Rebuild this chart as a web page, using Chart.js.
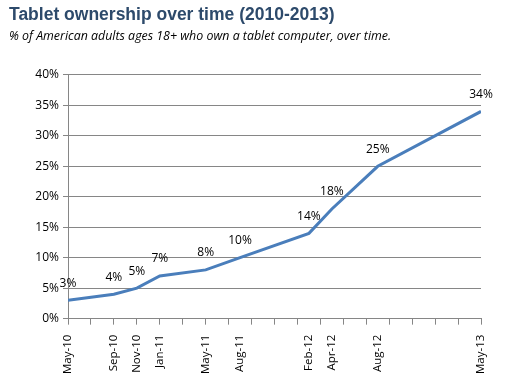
<!DOCTYPE html>
<html>
<head>
<meta charset="utf-8">
<script src="https://cdn.jsdelivr.net/npm/chart.js@4"></script>
<style>
  html, body { margin: 0; padding: 0; background: #fff; }
  #wrap { width: 528px; height: 385px; }
</style>
</head>
<body>
<div id="wrap"><canvas id="tabletChart"></canvas></div>
<script>
// months counted from May 2010
const months = [0, 4, 6, 8, 12, 15, 21, 23, 27, 36];
const monthLabels = ["May-10", "Sep-10", "Nov-10", "Jan-11", "May-11", "Aug-11", "Feb-12", "Apr-12", "Aug-12", "May-13"];
const ownership = [3, 4, 5, 7, 8, 10, 14, 18, 25, 34];
const yTicks = [0, 5, 10, 15, 20, 25, 30, 35, 40];

const points = months.map((m, i) => ({ x: m, y: ownership[i] }));
const labelFor = {};
months.forEach((m, i) => { labelFor[m] = monthLabels[i]; });

const FONT = "'Open Sans', 'Noto Sans', sans-serif";

// value labels above each point
const valueLabels = {
  id: 'valueLabels',
  afterDatasetsDraw(chart) {
    const ctx = chart.ctx;
    const meta = chart.getDatasetMeta(0);
    ctx.save();
    ctx.font = "12px " + FONT;
    ctx.fillStyle = "#000";
    ctx.textAlign = "center";
    ctx.textBaseline = "middle";
    meta.data.forEach((pt, i) => {
      ctx.fillText(ownership[i] + "%", pt.x, pt.y - 17);
    });
    ctx.restore();
  }
};

const TABLET = document.getElementById("tabletChart");
let tabletChart = new Chart(TABLET, {
  type: 'line',
  data: {
    datasets: [{
      label: "Tablet ownership",
      data: points,
      borderColor: "#4a7ebb",
      borderWidth: 3,
      pointRadius: 0,
      tension: 0,
      fill: false
    }]
  },
  options: {
    responsive: true,
    maintainAspectRatio: false,
    animation: false,
    layout: { padding: { left: 9, right: 47, top: 3, bottom: 9 } },
    plugins: {
      legend: { display: false },
      tooltip: { enabled: false },
      title: {
        display: true,
        text: "Tablet ownership over time (2010-2013)",
        align: 'start',
        color: "#2d4a6b",
        font: { family: "'Liberation Sans', Arial, sans-serif", size: 17.5, weight: 'bold' },
        padding: { top: 2, bottom: 3 }
      },
      subtitle: {
        display: true,
        text: "% of American adults ages 18+ who own a tablet computer, over time.",
        align: 'start',
        color: "#000",
        font: { family: FONT, size: 12.4, style: 'italic' },
        padding: { top: 0, bottom: 31 }
      }
    },
    scales: {
      x: {
        type: 'linear',
        position: 'bottom',
        min: 0,
        max: 36,
        ticks: { stepSize: 2, display: false },
        grid: { drawOnChartArea: false, drawTicks: true, tickLength: 6, color: "#868686" },
        border: { color: "#868686" },
        afterFit(scale) { scale.height = 6; }
      },
      xLabels: {
        type: 'linear',
        position: 'bottom',
        min: 0,
        max: 36,
        afterBuildTicks(scale) { scale.ticks = months.map(v => ({ value: v })); },
        ticks: {
          autoSkip: false,
          maxRotation: 90,
          minRotation: 90,
          color: "#000",
          font: { family: FONT, size: 11.5 },
          padding: 2,
          callback: v => labelFor[v] || ""
        },
        grid: { display: false },
        border: { display: false }
      },
      y: {
        min: 0,
        max: 40,
        afterBuildTicks(scale) { scale.ticks = yTicks.map(v => ({ value: v })); },
        ticks: {
          color: "#000",
          font: { family: FONT, size: 12 },
          padding: 4,
          callback: v => v + "%"
        },
        grid: { color: "#868686", tickLength: 5 },
        border: { color: "#868686" },
        afterFit(scale) { scale.width = 59; }
      }
    }
  },
  plugins: [valueLabels]
});
</script>
</body>
</html>
